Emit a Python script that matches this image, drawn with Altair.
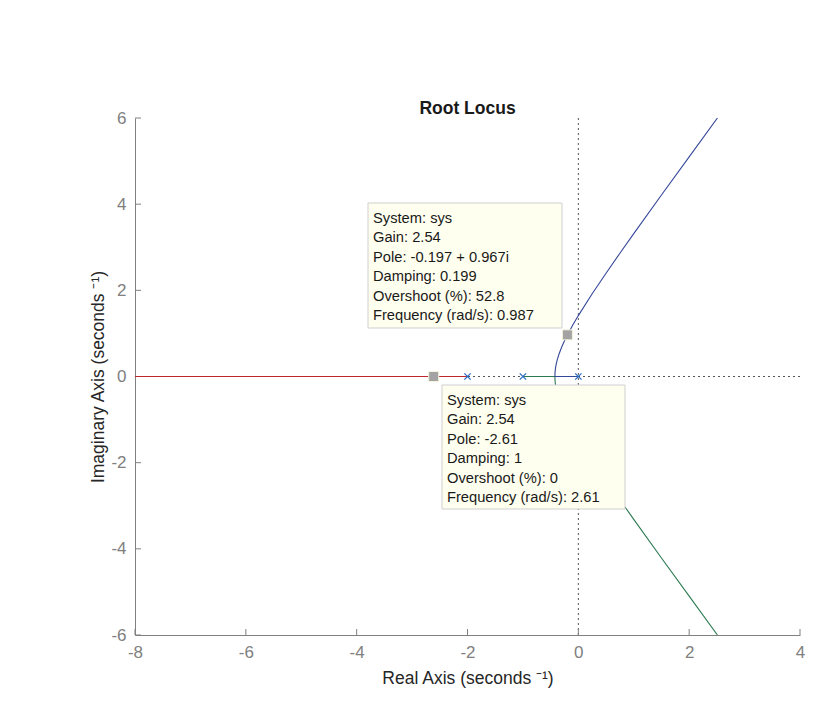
import altair as alt
import pandas as pd

# ---- data ----
red_x = [-2.0, -8.5]
red_y = [0.0, 0.0]

# upper branch (blue): from pole 0 to breakaway then upwards
blue_x = [0.0, -0.4226, -0.422, -0.42, -0.415, -0.41, -0.40, -0.38, -0.35, -0.30, -0.25, -0.20,
          -0.10, 0.0, 0.25, 0.5, 0.75, 1.0, 1.5, 2.0, 2.51]
blue_y = [0.0, 0.0, 0.04, 0.096, 0.16, 0.21, 0.283, 0.391, 0.517, 0.686, 0.829, 0.959,
          1.196, 1.414, 1.920, 2.398, 2.861, 3.317, 4.213, 5.099, 6.0]

# lower branch (green): from pole -1 to breakaway then downwards
green_x = [-1.0] + blue_x[1:]
green_y = [0.0] + [-v for v in blue_y[1:]]

pole_x = [0.0, -1.0, -2.0]
pole_y = [0.0, 0.0, 0.0]

tip_x = [-2.61, -0.197]
tip_y = [0.0, 0.967]

x_ticks = [-8, -6, -4, -2, 0, 2, 4]
y_ticks = [-6, -4, -2, 0, 2, 4, 6]

tip1_lines = ["System: sys", "Gain: 2.54", "Pole: -0.197 + 0.967i", "Damping: 0.199",
              "Overshoot (%): 52.8", "Frequency (rad/s): 0.987"]
tip2_lines = ["System: sys", "Gain: 2.54", "Pole: -2.61", "Damping: 1",
              "Overshoot (%): 0", "Frequency (rad/s): 2.61"]

branch_names = ["red", "green", "blue"]
branch_colors = ["#c0272d", "#2a7a52", "#34479a"]

# ---- build tables ----
rows = []
for name, xs, ys in [("red", red_x, red_y), ("green", green_x, green_y), ("blue", blue_x, blue_y)]:
    for i, (a, b) in enumerate(zip(xs, ys)):
        rows.append({"x": a, "y": b, "branch": name, "order": i})
lines_df = pd.DataFrame(rows)
poles_df = pd.DataFrame({"x": pole_x, "y": pole_y})
tips_df = pd.DataFrame({"x": tip_x, "y": tip_y})
xt_df = pd.DataFrame({"x": x_ticks})
yt_df = pd.DataFrame({"y": y_ticks})

FONT = "Liberation Sans"
W, H = 665, 517

xscale = alt.Scale(domain=[-8, 4], nice=False, zero=False)
yscale = alt.Scale(domain=[-6, 6], nice=False, zero=False)

LBL = "'' + datum.value"

xaxis = alt.Axis(values=x_ticks, title="Real Axis (seconds ⁻¹)", grid=False, tickSize=0,
                 labelExpr=LBL,
                 labelPadding=9, titlePadding=9, labelFontSize=17, labelColor="#808080",
                 titleFontSize=17.5, titleColor="#262626", titleFontWeight="normal",
                 domainColor="#808080", labelFont=FONT, titleFont=FONT, labelFlush=False)
yaxis = alt.Axis(values=y_ticks, title="Imaginary Axis (seconds ⁻¹)", grid=False, tickSize=0,
                 labelExpr=LBL,
                 labelPadding=9, titlePadding=3, labelFontSize=17, labelColor="#808080",
                 titleFontSize=17.5, titleColor="#262626", titleFontWeight="normal",
                 domainColor="#808080", labelFont=FONT, titleFont=FONT, labelFlush=False)

X = lambda f: alt.X(f, scale=xscale, axis=xaxis)
Y = lambda f: alt.Y(f, scale=yscale, axis=yaxis)

zero_v = alt.Chart(pd.DataFrame({"x": [0]})).mark_rule(
    color="#555555", strokeDash=[2, 3], strokeWidth=1
).encode(x=X("x:Q"))
zero_h = alt.Chart(pd.DataFrame({"y": [0]})).mark_rule(
    color="#555555", strokeDash=[2, 3], strokeWidth=1
).encode(y=Y("y:Q"))

xtick_rules = alt.Chart(xt_df).mark_rule(color="#808080").encode(
    x=X("x:Q"), y=alt.value(H), y2=alt.value(H - 6))
ytick_rules = alt.Chart(yt_df).mark_rule(color="#808080").encode(
    y=Y("y:Q"), x=alt.value(0), x2=alt.value(6))

lines = alt.Chart(lines_df).mark_line(strokeWidth=1.1, clip=True).encode(
    x=X("x:Q"),
    y=Y("y:Q"),
    color=alt.Color("branch:N", scale=alt.Scale(domain=branch_names, range=branch_colors), legend=None),
    order="order:Q",
    detail="branch:N",
)

poles = alt.Chart(poles_df).mark_point(
    shape="M-1,-1L1,1M-1,1L1,-1", size=40, color="#2f6fc4", filled=False, strokeWidth=1.3, opacity=1
).encode(x=X("x:Q"), y=Y("y:Q"))

tips = alt.Chart(tips_df).mark_square(
    size=100, color="#a3a3a3", opacity=1, stroke="#f3f3dc", strokeWidth=1
).encode(x=X("x:Q"), y=Y("y:Q"))

box_df = pd.DataFrame({"k": [0]})
box1 = alt.Chart(box_df).mark_rect(fill="#ffffef", stroke="#cfcfcf", strokeWidth=1).encode(
    x=alt.value(233), x2=alt.value(427), y=alt.value(85), y2=alt.value(210))
box2 = alt.Chart(box_df).mark_rect(fill="#ffffef", stroke="#cfcfcf", strokeWidth=1).encode(
    x=alt.value(307), x2=alt.value(490), y=alt.value(267), y2=alt.value(391))

text1 = alt.Chart(box_df).mark_text(
    text="\n".join(tip1_lines), lineBreak="\n", lineHeight=19.4, align="left", baseline="top",
    font=FONT, fontSize=14.7, color="#1a1a1a"
).encode(x=alt.value(238), y=alt.value(93))
text2 = alt.Chart(box_df).mark_text(
    text="\n".join(tip2_lines), lineBreak="\n", lineHeight=19.4, align="left", baseline="top",
    font=FONT, fontSize=14.7, color="#1a1a1a"
).encode(x=alt.value(312), y=alt.value(275))

chart = alt.layer(
    zero_v, zero_h, xtick_rules, ytick_rules, lines, poles, tips, box1, box2, text1, text2
).properties(
    width=W, height=H,
    background="white",
    title=alt.TitleParams("Root Locus", font=FONT, fontSize=17.5, fontWeight="bold",
                          color="#1a1a1a", anchor="middle", offset=-8),
    autosize=alt.AutoSizeParams(type="none"),
    padding={"left": 135, "top": 118, "right": 40, "bottom": 76},
).configure_view(strokeWidth=0)

chart.save("out.html", embed_options={"renderer": "svg", "actions": False})
